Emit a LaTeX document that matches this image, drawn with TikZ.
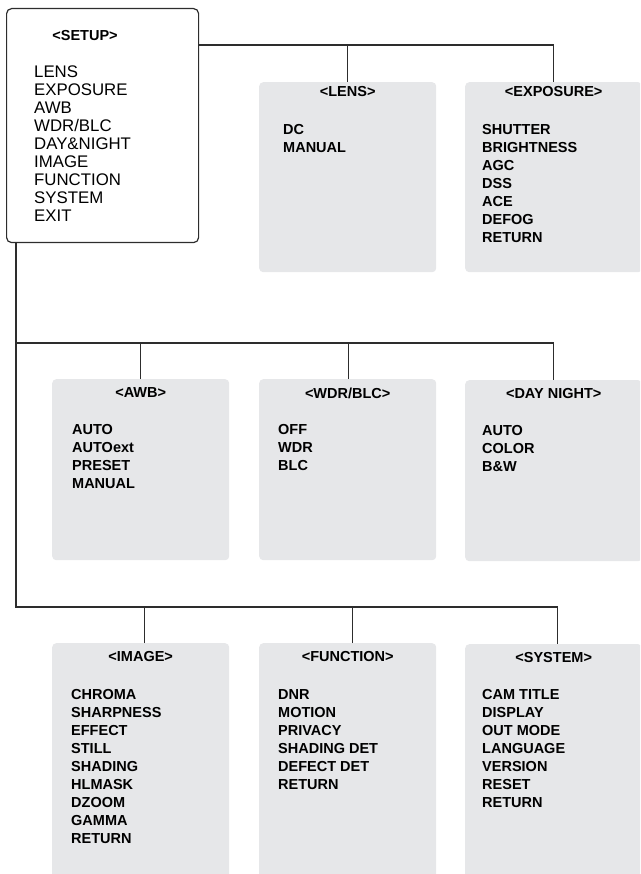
\documentclass[tikz,border=0pt]{standalone}
\usepackage{fontspec}
\setmainfont{Liberation Sans}
\usetikzlibrary{calc}
\definecolor{boxgray}{RGB}{230,231,233}
\definecolor{linegray}{RGB}{45,45,45}
\tikzset{
  menu/.style={fill=boxgray, rounded corners=4pt, minimum width=177pt, anchor=north west, inner sep=0pt},
  title/.style={inner sep=0pt, font=\bfseries\fontsize{14.5}{18}\selectfont},
  entry/.style={anchor=base west, inner sep=0pt, font=\bfseries\fontsize{14.5}{18}\selectfont},
  link/.style={draw=linegray, line width=1.2pt}
}
\begin{document}
\begin{tikzpicture}[x=1pt, y=-1pt]
        \useasboundingbox (0,0) rectangle (640,874);
        \clip (0,0) rectangle (640,874);

        % main menu
        \node[draw=linegray, line width=1.2pt, rounded corners=5pt, minimum width=192pt, minimum height=234pt,
              anchor=north west, inner sep=0pt] (setup) at (6,8) {};
        \node[title] (setup-t) at (85,36) {<SETUP>};
        \foreach \t [count=\i] in {LENS, EXPOSURE, AWB, WDR/BLC, DAY\&NIGHT, IMAGE, FUNCTION, SYSTEM, EXIT}
            \node[anchor=base west, inner sep=0pt, font=\fontsize{16.8}{18}\selectfont] (setup-\i) at (34,{60+18*\i}) {\t};

        % first row
        \node[menu, minimum height=190pt] (lens) at (259,82) {};
        \node[title] (lens-t) at ([yshift=-10]lens.north) {<LENS>};
        \foreach \t [count=\i] in {DC, MANUAL}
            \node[entry] (lens-\i) at ($(lens.north west)+(24,{35+18*\i})$) {\t};

        \node[menu, minimum height=190pt] (expo) at (465,82) {};
        \node[title] (expo-t) at ([yshift=-10]expo.north) {<EXPOSURE>};
        \foreach \t [count=\i] in {SHUTTER, BRIGHTNESS, AGC, DSS, ACE, DEFOG, RETURN}
            \node[entry] (expo-\i) at ($(expo.north west)+(17,{35+18*\i})$) {\t};

        % second row
        \node[menu, minimum height=181pt] (awb) at (52,379) {};
        \node[title] (awb-t) at ([yshift=-14]awb.north) {<AWB>};
        \foreach \t [count=\i] in {AUTO, AUTOext, PRESET, MANUAL}
            \node[entry] (awb-\i) at ($(awb.north west)+(20,{37+18*\i})$) {\t};

        \node[menu, minimum height=181pt] (wdr) at (259,379) {};
        \node[title] (wdr-t) at ([yshift=-14]wdr.north) {<WDR/BLC>};
        \foreach \t [count=\i] in {OFF, WDR, BLC}
            \node[entry] (wdr-\i) at ($(wdr.north west)+(19,{37+18*\i})$) {\t};

        \node[menu, minimum height=181pt] (dn) at (465,380) {};
        \node[title] (dn-t) at ([yshift=-14]dn.north) {<DAY NIGHT>};
        \foreach \t [count=\i] in {AUTO, COLOR, B\&W}
            \node[entry] (dn-\i) at ($(dn.north west)+(17,{37+18*\i})$) {\t};

        % third row
        \node[menu, minimum height=240pt] (image) at (52,643) {};
        \node[title] (image-t) at ([yshift=-14]image.north) {<IMAGE>};
        \foreach \t [count=\i] in {CHROMA, SHARPNESS, EFFECT, STILL, SHADING, HLMASK, DZOOM, GAMMA, RETURN}
            \node[entry] (image-\i) at ($(image.north west)+(19,{38+18*\i})$) {\t};

        \node[menu, minimum height=240pt] (func) at (259,643) {};
        \node[title] (func-t) at ([yshift=-14]func.north) {<FUNCTION>};
        \foreach \t [count=\i] in {DNR, MOTION, PRIVACY, SHADING DET, DEFECT DET, RETURN}
            \node[entry] (func-\i) at ($(func.north west)+(19,{38+18*\i})$) {\t};

        \node[menu, minimum height=240pt] (sys) at (465,644) {};
        \node[title] (sys-t) at ([yshift=-14]sys.north) {<SYSTEM>};
        \foreach \t [count=\i] in {CAM TITLE, DISPLAY, OUT MODE, LANGUAGE, VERSION, RESET, RETURN}
            \node[entry] (sys-\i) at ($(sys.north west)+(17,{37+18*\i})$) {\t};

        % connectors
        \coordinate (bus1) at ([yshift=-37]setup.north east);
        \coordinate (trunk) at ([xshift=10]setup.south west);
        \coordinate (bus2) at (16,343);
        \coordinate (bus3) at (16,607);
        \draw[link] (bus1) -| (expo.north);
        \draw[link] (lens.north) -- (lens.north |- bus1);
        \draw[link] (trunk) -- (bus3) -| ([xshift=4]sys.north);
        \draw[link] (bus2) -| (dn.north);
        \draw[link] (awb.north) -- (awb.north |- bus2);
        \draw[link] ([xshift=1]wdr.north) -- ([xshift=1]wdr.north |- bus2);
        \draw[link] ([xshift=4]image.north) -- ([xshift=4]image.north |- bus3);
        \draw[link] ([xshift=5]func.north) -- ([xshift=5]func.north |- bus3);
\end{tikzpicture}
\end{document}
